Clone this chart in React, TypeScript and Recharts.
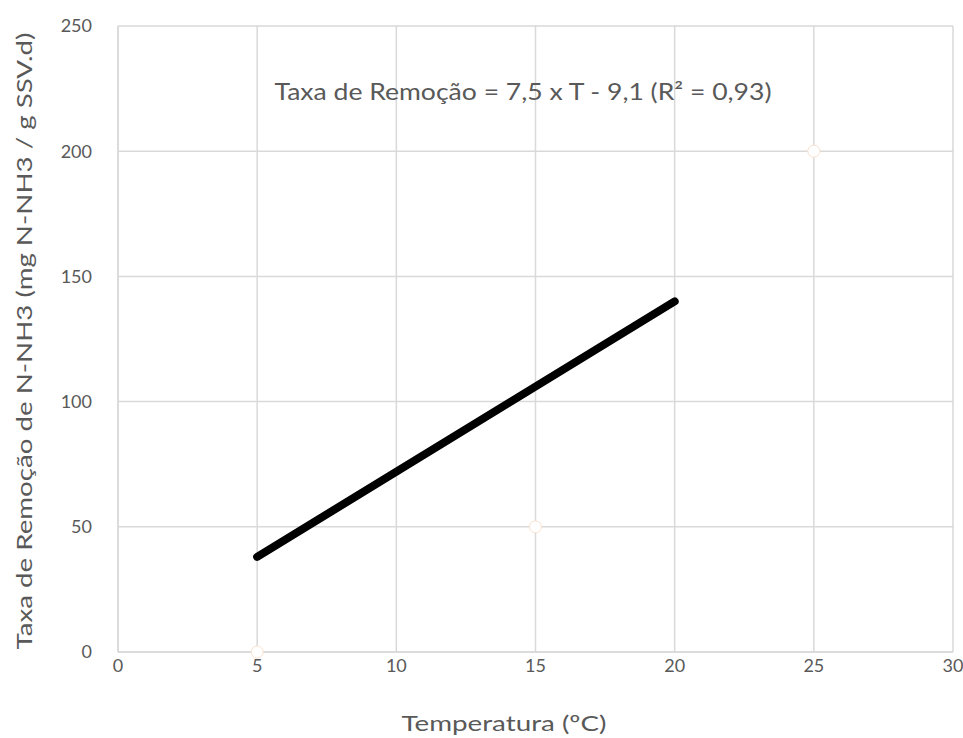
import React from "react";
import { ComposedChart, Line, Scatter, XAxis, YAxis, CartesianGrid } from "recharts";

const trendT = [5, 20];
const trendRate = [38, 140];
const obsT = [5, 15, 25];
const obsRate = [0, 50, 200];
const xTicks = [0, 5, 10, 15, 20, 25, 30];
const yTicks = [0, 50, 100, 150, 200, 250];

const trendData = trendT.map((t, i) => ({ t, rate: trendRate[i] }));
const obsData = obsT.map((t, i) => ({ t, rate: obsRate[i] }));

const FONT = "Lato, 'Open Sans', sans-serif";
const GRAY = "#595959";

export default function App() {
  return (
    <div style={{ position: "absolute", left: 0, top: 0, background: "#fff" }}>
      <ComposedChart
        width={963}
        height={738}
        margin={{ top: 26, right: 10, bottom: 56, left: 58 }}
        style={{ fontFamily: FONT }}
      >
        <CartesianGrid stroke="#d9d9d9" strokeWidth={1.5} />
        <XAxis
          type="number"
          dataKey="t"
          domain={[0, 30]}
          ticks={xTicks}
          axisLine={{ stroke: "#d9d9d9", strokeWidth: 1.5 }}
          tickLine={false}
          tick={{ fill: GRAY, fontSize: 18, fontFamily: FONT }}
          tickMargin={1}
          height={30}
        />
        <YAxis
          type="number"
          dataKey="rate"
          domain={[0, 250]}
          ticks={yTicks}
          axisLine={{ stroke: "#d9d9d9", strokeWidth: 1.5 }}
          tickLine={false}
          tick={{ fill: GRAY, fontSize: 18, fontFamily: FONT }}
          tickMargin={20}
          width={60}
        />
        <Scatter
          data={obsData}
          fill="#ffffff"
          isAnimationActive={false}
          shape={(p: any) => <circle cx={p.cx} cy={p.cy} r={6} fill="#fff" stroke="#fbe2cf" strokeWidth={1} />}
        />
        <Line
          data={trendData}
          dataKey="rate"
          stroke="#000"
          strokeWidth={8}
          strokeLinecap="round"
          dot={false}
          activeDot={false}
          isAnimationActive={false}
        />
        <text
          x={523}
          y={100}
          textAnchor="middle"
          fill={GRAY}
          fontSize={23}
          fontFamily={FONT}
          textLength={497}
          lengthAdjust="spacingAndGlyphs"
        >
          Taxa de Remoção = 7,5 x T - 9,1 (R² = 0,93)
        </text>
        <text
          x={504}
          y={731}
          textAnchor="middle"
          fill={GRAY}
          fontSize={22}
          fontFamily={FONT}
          textLength={205}
          lengthAdjust="spacingAndGlyphs"
        >
          Temperatura (ºC)
        </text>
        <text
          x={0}
          y={0}
          transform="translate(32,341) rotate(-90)"
          textAnchor="middle"
          fill={GRAY}
          fontSize={22}
          fontFamily={FONT}
          textLength={617}
          lengthAdjust="spacingAndGlyphs"
        >
          Taxa de Remoção de N-NH3 (mg N-NH3 / g SSV.d)
        </text>
      </ComposedChart>
    </div>
  );
}
